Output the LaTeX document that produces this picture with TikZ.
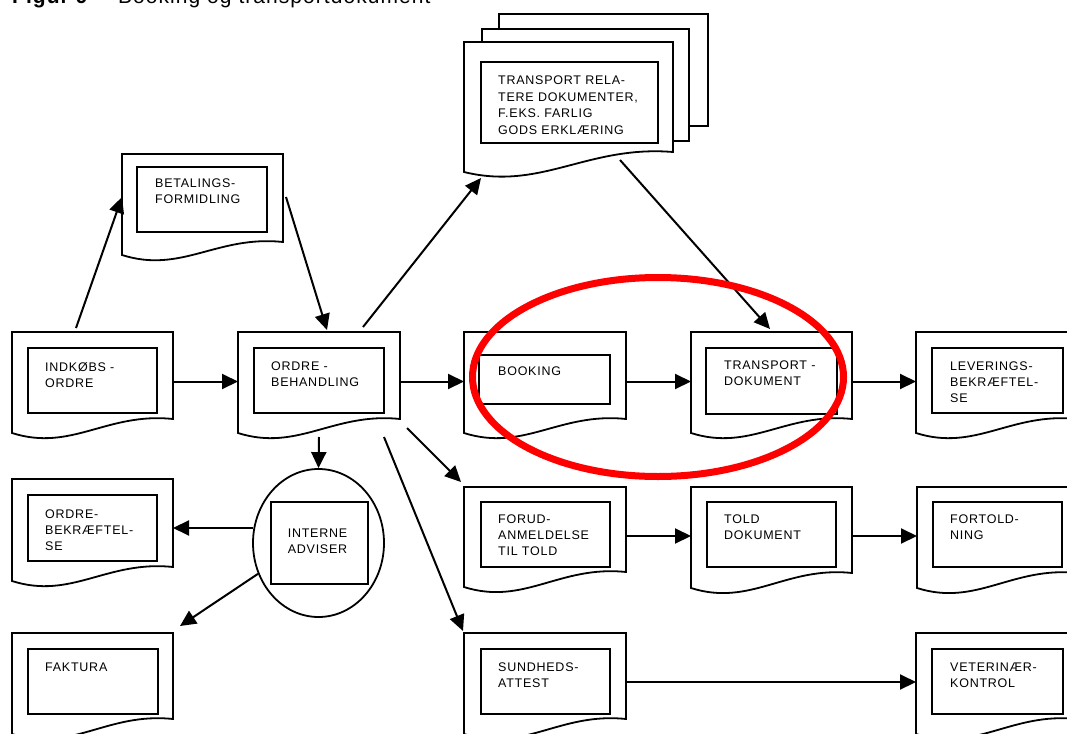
\documentclass[tikz,border=0pt]{standalone}
\usepackage{fontspec}
\setmainfont{Liberation Sans}
\newfontfamily\labfont[LetterSpace=6]{Liberation Sans}
\newfontfamily\titlefont[LetterSpace=5]{Liberation Sans}
\usetikzlibrary{arrows.meta,calc,shapes.geometric}
\tikzset{
  docline/.style={line width=1.8pt, draw=black, line join=miter, fill=white},
  frame/.style={rectangle, inner sep=0pt, outer sep=0pt, anchor=north west,
    minimum width=161pt, minimum height=101pt},
  inbox/.style={rectangle, draw, line width=1.8pt, inner sep=0pt, outer sep=0pt,
    anchor=north west, minimum width=129pt, minimum height=65pt, fill=white},
  lbl/.style={anchor=north west, inner sep=0pt, align=left,
    font=\labfont\fontsize{12.5}{16}\selectfont},
  conn/.style={line width=2pt, -{Triangle[length=16pt,width=15pt]}},
  redring/.style={draw=red, line width=7pt},
}
% #1 node name, #2 width, #3 left height, #4 right height
\newcommand\docout[4]{%
  \draw[docline] (#1.north west) -- (#1.north east)
    -- ($(#1.north east)+(0,#4)$)
    .. controls ($(#1.north west)+({0.59*#2},{#4-7})$)
       and ($(#1.north west)+({0.37*#2},{#3+19})$)
    .. ($(#1.north west)+(0,#3)$) -- cycle;}
\begin{document}
\begin{tikzpicture}[x=1pt,y=-1pt]
\useasboundingbox (0,0) rectangle (1067,733);

% title (only its lower part is visible)
\node[anchor=base west, inner sep=0pt, font=\titlefont\fontsize{21}{25}\selectfont\bfseries] (fig) at (12,4) {Figur 9};
\node[anchor=base west, inner sep=0pt, font=\titlefont\fontsize{21}{25}\selectfont] (title) at (118,4) {Booking og transportdokument};

% ---- transport related documents (stack) ----
\node[docline, rectangle, draw, anchor=north west, minimum width=209pt, minimum height=112pt, inner sep=0pt] (trelback) at (498,13) {};
\node[docline, rectangle, draw, anchor=north west, minimum width=207pt, minimum height=112pt, inner sep=0pt] (trelmid) at (481,28) {};
\node[frame, minimum width=209pt, minimum height=130pt] (trel) at (464,42) {};
\docout{trel}{209}{130}{110}
\node[inbox, minimum width=177pt, minimum height=81pt] (trel-in) at (481,62) {};
\node[lbl, font=\labfont\fontsize{12.5}{16.5}\selectfont] (trel-t) at (498,76) {TRANSPORT RELA-\\TERE DOKUMENTER,\\F.EKS. FARLIG\\GODS ERKLÆRING};

% ---- betalingsformidling ----
\node[frame] (betal) at (122,154) {};
\docout{betal}{161}{101}{88}
\node[inbox, minimum width=130pt] (betal-in) at (137,167) {};
\node[lbl] (betal-t) at (155,179) {BETALINGS-\\FORMIDLING};

% ---- row 1 ----
\node[frame] (indk) at (12,332) {};
\docout{indk}{161}{101}{87}
\node[inbox] (indk-in) at (28,348) {};
\node[lbl] (indk-t) at (45,362) {INDKØBS -\\ORDRE};

\node[frame, minimum width=162pt] (ordre) at (238,332) {};
\docout{ordre}{162}{101}{87}
\node[inbox, minimum width=130pt] (ordre-in) at (254,348) {};
\node[lbl] (ordre-t) at (271,362) {ORDRE -\\BEHANDLING};

\node[frame, minimum width=162pt] (book) at (464,332) {};
\docout{book}{162}{101}{87}
\node[inbox, minimum width=131pt, minimum height=49pt] (book-in) at (479,355) {};
\node[lbl] (book-t) at (498,367) {BOOKING};

\node[frame] (tdok) at (691,332) {};
\docout{tdok}{161}{101}{87}
\node[inbox, minimum width=131pt, minimum height=66pt] (tdok-in) at (706,348) {};
\node[lbl] (tdok-t) at (724,361) {TRANSPORT -\\DOKUMENT};

\node[frame] (lev) at (916,332) {};
\docout{lev}{161}{101}{87}
\node[inbox, minimum width=131pt] (lev-in) at (932,348) {};
\node[lbl] (lev-t) at (950,362) {LEVERINGS-\\BEKRÆFTEL-\\SE};

% ---- row 2 ----
\node[frame, minimum height=102pt] (obek) at (12,479) {};
\docout{obek}{161}{102}{88}
\node[inbox, minimum height=66pt] (obek-in) at (28,495) {};
\node[lbl] (obek-t) at (45,510) {ORDRE-\\BEKRÆFTEL-\\SE};

\node[frame, minimum width=162pt, minimum height=100pt] (forud) at (464,487) {};
\docout{forud}{162}{100}{85}
\node[inbox] (forud-in) at (481,502) {};
\node[lbl] (forud-t) at (498,515) {FORUD-\\ANMELDELSE\\TIL TOLD};

\node[frame] (told) at (691,487) {};
\docout{told}{161}{101}{86}
\node[inbox] (told-in) at (707,502) {};
\node[lbl] (told-t) at (724,515) {TOLD\\DOKUMENT};

\node[frame] (fort) at (917,487) {};
\docout{fort}{161}{101}{86}
\node[inbox] (fort-in) at (933,502) {};
\node[lbl] (fort-t) at (950,515) {FORTOLD-\\NING};

% ---- row 3 ----
\node[frame] (fakt) at (12,633) {};
\docout{fakt}{161}{101}{86}
\node[inbox, minimum width=130pt] (fakt-in) at (28,649) {};
\node[lbl] (fakt-t) at (45,663) {FAKTURA};

\node[frame, minimum width=162pt] (sund) at (464,633) {};
\docout{sund}{162}{101}{86}
\node[inbox] (sund-in) at (481,649) {};
\node[lbl] (sund-t) at (498,663) {SUNDHEDS-\\ATTEST};

\node[frame] (vet) at (916,633) {};
\docout{vet}{161}{101}{86}
\node[inbox, minimum width=131pt] (vet-in) at (932,649) {};
\node[lbl] (vet-t) at (950,663) {VETERINÆR-\\KONTROL};

% ---- interne adviser ----
\node[draw, ellipse, line width=1.8pt, minimum width=131pt, minimum height=148pt, inner sep=0pt, fill=white] (intern) at (318.5,543) {};
\node[inbox, minimum width=97pt, minimum height=82pt] (intern-in) at (271,502) {};
\node[lbl, align=center, anchor=center] (intern-t) at ($(intern-in.center)+(-2,-2)$) {INTERNE\\ADVISER};

% ---- connectors ----
\draw[conn] ($(indk.north)+(-16.5,-4)$) -- ($(betal.north west)+(0,43)$);
\draw[conn] ($(betal.north east)+(3,43)$) -- ($(ordre.north)+(8,-2)$);
\draw[conn] ($(ordre.north)+(44,-5)$) -- ($(trel.south west)+(17,6)$);
\draw[conn] ($(trel.south east)+(-53,-12)$) -- ($(tdok.north)+(-1.5,-3)$);
\draw[conn] ($(indk.east)+(0,-1)$) -- ($(ordre.west)+(0,-1)$);
\draw[conn] ($(ordre.east)+(0,-1)$) -- ($(book.west)+(0,-1)$);
\draw[conn] ($(book.east)+(0,-1)$) -- ($(tdok.west)+(0,-1)$);
\draw[conn] ($(tdok.east)+(0,-1)$) -- ($(lev.west)+(0,-1)$);
\draw[conn] ($(ordre.south)+(0,4)$) -- (intern.north);
\draw[conn] ($(ordre.south east)+(7,-5)$) -- ($(forud.north west)+(-3,-5)$);
\draw[conn] ($(ordre.south)+(65,4)$) -- ($(sund.north west)+(-1,-2)$);
\draw[conn] (intern.167) -- (intern.167 -| obek.east);
\draw[conn] (intern.207) -- ($(fakt.north east)+(7,-7)$);
\draw[conn] ($(forud.east)+(0,-1)$) -- ($(forud.east -| told.west)+(0,-1)$);
\draw[conn] ($(told.east)+(0,-1.5)$) -- ($(told.east -| fort.west)+(0,-1.5)$);
\draw[conn] ($(sund.east)+(0,-1.5)$) -- ($(sund.east -| vet.west)+(0,-1.5)$);

% ---- red highlight ----
\draw[redring] (658,377) ellipse [x radius=185.5, y radius=99.5];
\end{tikzpicture}
\end{document}
